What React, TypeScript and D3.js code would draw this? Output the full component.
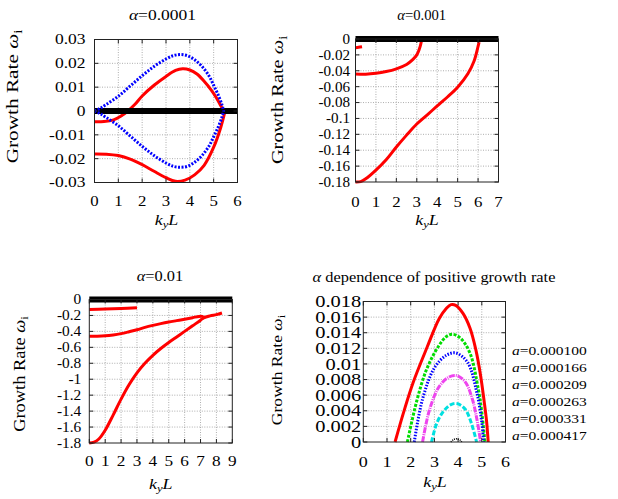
import React from "react";
import * as d3 from "d3";

type Pt = [number, number];

// ---- panel 1 : alpha = 0.0001 ----
const p1XTicks = [0, 1, 2, 3, 4, 5, 6];
const p1YTicks = [-0.03, -0.02, -0.01, 0, 0.01, 0.02, 0.03];
const p1YLabels = ["-0.03", "-0.02", "-0.01", "0", "0.01", "0.02", "0.03"];
const p1RedUpper: Pt[] = [
  [0, -0.0045], [0.4, -0.0044], [0.8, -0.0037], [1.1, -0.0022], [1.4, 0], [1.7, 0.0028],
  [2, 0.0063], [2.5, 0.0108], [3, 0.0145], [3.4, 0.017], [3.7, 0.0177], [4, 0.0172],
  [4.3, 0.0155], [4.6, 0.0125], [4.9, 0.0088], [5.1, 0.0058], [5.3, 0.0022], [5.45, -0.0005],
];
const p1RedLower: Pt[] = [
  [0, -0.018], [0.5, -0.0181], [1, -0.0187], [1.5, -0.0202], [2, -0.0225], [2.5, -0.0253],
  [3, -0.028], [3.4, -0.0295], [3.8, -0.029], [4.2, -0.0268], [4.6, -0.0228], [5, -0.0152],
  [5.3, -0.0068], [5.48, 0],
];
const p1BlueUpper: Pt[] = [
  [0, 0], [0.25, 0.0012], [0.5, 0.0028], [1, 0.0062], [1.5, 0.0105], [2, 0.0148],
  [2.5, 0.0187], [3, 0.0218], [3.3, 0.0232], [3.6, 0.0237], [3.9, 0.0232], [4.2, 0.0215],
  [4.5, 0.0188], [4.8, 0.0148], [5, 0.0108], [5.2, 0.0065], [5.35, 0.0025], [5.42, 0],
];
const p1BlueLower: Pt[] = [
  [0, 0], [0.25, -0.0012], [0.5, -0.0028], [1, -0.0062], [1.5, -0.0105], [2, -0.0148],
  [2.5, -0.0187], [3, -0.0218], [3.3, -0.0232], [3.6, -0.0236], [3.9, -0.0232], [4.2, -0.0215],
  [4.5, -0.0188], [4.8, -0.0148], [5, -0.0108], [5.2, -0.0065], [5.35, -0.0025], [5.42, 0],
];
const p1Zero: Pt[] = [[0, 0], [6, 0]];

// ---- panel 2 : alpha = 0.001 ----
const p2XTicks = [0, 1, 2, 3, 4, 5, 6, 7];
const p2YTicks = [-0.18, -0.16, -0.14, -0.12, -0.1, -0.08, -0.06, -0.04, -0.02, 0];
const p2YLabels = ["-0.18", "-0.16", "-0.14", "-0.12", "-0.1", "-0.08", "-0.06", "-0.04", "-0.02", "0"];
const p2RedA: Pt[] = [[0, -0.011], [0.15, -0.0105], [0.32, -0.0098]];
const p2RedB: Pt[] = [
  [0, -0.044], [0.5, -0.0443], [1, -0.0432], [1.5, -0.041], [2, -0.0375], [2.5, -0.032],
  [2.8, -0.026], [3, -0.02], [3.12, -0.013], [3.2, -0.006], [3.24, 0],
];
const p2RedC: Pt[] = [
  [0, -0.18], [0.25, -0.1795], [0.5, -0.176], [1, -0.165], [1.5, -0.152], [2, -0.136],
  [2.5, -0.121], [3, -0.107], [3.5, -0.0957], [4, -0.0843], [4.5, -0.073], [5, -0.0607],
  [5.5, -0.0438], [5.8, -0.028], [6, -0.0093], [6.05, -0.004],
];
const p2Zero: Pt[] = [[0, 0], [7, 0]];

// ---- panel 3 : alpha = 0.01 ----
const p3XTicks = [0, 1, 2, 3, 4, 5, 6, 7, 8, 9];
const p3YTicks = [-1.8, -1.6, -1.4, -1.2, -1, -0.8, -0.6, -0.4, -0.2, 0];
const p3YLabels = ["-1.8", "-1.6", "-1.4", "-1.2", "-1", "-0.8", "-0.6", "-0.4", "-0.2", "0"];
const p3RedA: Pt[] = [[0, -0.125], [1, -0.12], [2, -0.113], [3, -0.105]];
const p3RedB: Pt[] = [
  [0, -0.46], [0.5, -0.46], [1, -0.456], [1.5, -0.445], [2, -0.428], [2.5, -0.405],
  [3, -0.38], [3.5, -0.35], [4, -0.325], [4.5, -0.303], [5, -0.283], [5.5, -0.265],
  [6, -0.247], [6.5, -0.228], [6.9, -0.212], [7.1, -0.212], [7.25, -0.225],
];
const p3RedC: Pt[] = [
  [0, -1.8], [0.3, -1.79], [0.6, -1.75], [1, -1.64], [1.5, -1.45], [2, -1.25],
  [2.5, -1.07], [3, -0.92], [3.5, -0.8], [4, -0.7], [4.5, -0.615], [5, -0.54],
  [5.5, -0.47], [6, -0.4], [6.5, -0.33], [7, -0.26], [7.2, -0.23], [7.6, -0.205],
  [8, -0.19], [8.35, -0.17],
];
const p3Zero: Pt[] = [[0, 0], [9, 0]];

// ---- panel 4 : alpha dependence ----
const p4XTicks = [0, 1, 2, 3, 4, 5, 6];
const p4YTicks = [0, 0.002, 0.004, 0.006, 0.008, 0.01, 0.012, 0.014, 0.016, 0.018];
const p4YLabels = ["0", "0.002", "0.004", "0.006", "0.008", "0.01", "0.012", "0.014", "0.016", "0.018"];
const p4Names = ["0.000100", "0.000166", "0.000209", "0.000263", "0.000331", "0.000417"];
const p4Red: Pt[] = [
  [1.34, 0], [1.7, 0.0038], [2.1, 0.0076], [2.7, 0.0122], [3.2, 0.0158], [3.5, 0.0171],
  [3.7, 0.0176], [3.9, 0.0175], [4.2, 0.0165], [4.5, 0.0146], [4.75, 0.0118], [4.95, 0.0085],
  [5.1, 0.0052], [5.2, 0.0027], [5.27, 0],
];
const p4Green: Pt[] = [
  [1.86, 0], [2.25, 0.0052], [2.67, 0.0093], [3.16, 0.0122], [3.5, 0.0135], [3.77, 0.0138],
  [4.1, 0.0133], [4.5, 0.0114], [4.85, 0.0068], [5, 0.0038], [5.13, 0],
];
const p4Blue: Pt[] = [
  [2.15, 0], [2.5, 0.0055], [3, 0.0095], [3.5, 0.0111], [3.91, 0.0114], [4.4, 0.0102],
  [4.8, 0.0062], [5, 0.0025], [5.08, 0],
];
const p4Magenta: Pt[] = [
  [2.5, 0], [2.8, 0.0042], [3.2, 0.0071], [3.6, 0.0083], [3.94, 0.0085], [4.3, 0.0077],
  [4.6, 0.0055], [4.8, 0.0028], [4.95, 0],
];
const p4Cyan: Pt[] = [
  [2.88, 0], [3.1, 0.0024], [3.4, 0.004], [3.7, 0.0048], [3.98, 0.0049], [4.3, 0.0042],
  [4.55, 0.0025], [4.78, 0],
];
const p4Black: Pt[] = [[3.7, 0], [3.8, 0.0003], [3.95, 0.0004], [4.1, 0.0002], [4.15, 0]];

const FONT = "'Liberation Serif', 'Times New Roman', serif";

type Series = { data: Pt[]; color: string; width: number; dash?: string };
type Box = { left: number; right: number; top: number; bottom: number };
type TextSpec = { x: number; y: number; fs: number; sx: number };

function T({ x, y, fs, sx, anchor = "middle", rotate = 0, dy = "0", children }: any) {
  return (
    <text
      transform={`translate(${x},${y}) rotate(${rotate}) scale(${sx},1)`}
      fontSize={fs}
      fontFamily={FONT}
      textAnchor={anchor}
      dy={dy}
      fill="#000"
    >
      {children}
    </text>
  );
}

function Panel(props: {
  box: Box;
  xDomain: [number, number];
  yDomain: [number, number];
  xTicks: number[];
  yTicks: number[];
  yLabels: string[];
  series: Series[];
  yTick: { fs: number; sx: number; gap: number };
  xTick: { fs: number; sx: number; off: number };
  title: TextSpec & { text: React.ReactNode };
  ylab: TextSpec;
  xlab: TextSpec;
}) {
  const { box, xTicks, yTicks, yLabels, series, yTick, xTick, title, ylab, xlab } = props;
  const x = d3.scaleLinear().domain(props.xDomain).range([box.left, box.right]);
  const y = d3.scaleLinear().domain(props.yDomain).range([box.bottom, box.top]);
  const line = d3
    .line<Pt>()
    .x((d) => x(d[0]))
    .y((d) => y(d[1]))
    .curve(d3.curveCatmullRom.alpha(0.5));
  const tl = 4;

  return (
    <g>
      {/* grid */}
      {xTicks.slice(1, -1).map((t) => (
        <line key={"gx" + t} x1={x(t)} x2={x(t)} y1={box.top} y2={box.bottom}
          stroke="#999" strokeWidth={0.8} strokeDasharray="1,1.5" />
      ))}
      {yTicks.slice(1, -1).map((t) => (
        <line key={"gy" + t} x1={box.left} x2={box.right} y1={y(t)} y2={y(t)}
          stroke="#999" strokeWidth={0.8} strokeDasharray="1,1.5" />
      ))}
      {/* curves */}
      {series.map((s, i) => (
        <path key={i} d={line(s.data) || ""} fill="none" stroke={s.color}
          strokeWidth={s.width} strokeDasharray={s.dash} />
      ))}
      {/* frame + ticks */}
      <rect x={box.left} y={box.top} width={box.right - box.left} height={box.bottom - box.top}
        fill="none" stroke="#222" strokeWidth={1} />
      {xTicks.map((t) => (
        <g key={"tx" + t}>
          <line x1={x(t)} x2={x(t)} y1={box.bottom} y2={box.bottom - tl} stroke="#222" />
          <line x1={x(t)} x2={x(t)} y1={box.top} y2={box.top + tl} stroke="#222" />
          <T x={x(t)} y={box.bottom + xTick.off} fs={xTick.fs} sx={xTick.sx} dy="0.35em">{t}</T>
        </g>
      ))}
      {yTicks.map((t, i) => (
        <g key={"ty" + t}>
          <line x1={box.left} x2={box.left + tl} y1={y(t)} y2={y(t)} stroke="#222" />
          <line x1={box.right} x2={box.right - tl} y1={y(t)} y2={y(t)} stroke="#222" />
          <T x={box.left - yTick.gap} y={y(t)} fs={yTick.fs} sx={yTick.sx} anchor="end" dy="0.35em">
            {yLabels[i]}
          </T>
        </g>
      ))}
      <T x={title.x} y={title.y} fs={title.fs} sx={title.sx} dy="0.35em">{title.text}</T>
      <T x={ylab.x} y={ylab.y} fs={ylab.fs} sx={ylab.sx} rotate={-90}>
        Growth Rate <tspan fontStyle="italic">ω</tspan>
        <tspan fontSize="0.7em" dy="0.3em">i</tspan>
      </T>
      <T x={xlab.x} y={xlab.y} fs={xlab.fs} sx={xlab.sx}>
        <tspan fontStyle="italic">k</tspan>
        <tspan fontStyle="italic" fontSize="0.7em" dy="0.3em">y</tspan>
        <tspan fontStyle="italic" dy="-0.21em">L</tspan>
      </T>
    </g>
  );
}

const RED = "#ff0000";

export default function App() {
  return (
    <svg width={618} height={499} style={{ position: "absolute", left: 0, top: 0, background: "#fff" }}>
      <rect width={618} height={499} fill="#fff" />
      <Panel
        box={{ left: 94.5, right: 237.5, top: 39.5, bottom: 182.5 }}
        xDomain={[0, 6]} yDomain={[-0.03, 0.03]}
        xTicks={p1XTicks} yTicks={p1YTicks} yLabels={p1YLabels}
        series={[
          { data: p1RedUpper, color: RED, width: 3 },
          { data: p1RedLower, color: RED, width: 3 },
          { data: p1Zero, color: "#000", width: 6 },
          { data: p1BlueUpper, color: "#0000ff", width: 3, dash: "2,1.5" },
          { data: p1BlueLower, color: "#0000ff", width: 3, dash: "2,1.5" },
        ]}
        yTick={{ fs: 14, sx: 1.25, gap: 9 }}
        xTick={{ fs: 14, sx: 1.2, off: 19 }}
        title={{ x: 162.5, y: 15, fs: 14, sx: 1.25, text: <><tspan fontStyle="italic">α</tspan>=0.0001</> }}
        ylab={{ x: 18.3, y: 96.5, fs: 17, sx: 1.25 }}
        xlab={{ x: 166.5, y: 225, fs: 15, sx: 1.2 }}
      />
      <Panel
        box={{ left: 355.5, right: 498.5, top: 39, bottom: 182 }}
        xDomain={[0, 7]} yDomain={[-0.18, 0]}
        xTicks={p2XTicks} yTicks={p2YTicks} yLabels={p2YLabels}
        series={[
          { data: p2RedA, color: RED, width: 3 },
          { data: p2RedB, color: RED, width: 3 },
          { data: p2RedC, color: RED, width: 3 },
          { data: p2Zero, color: "#000", width: 6 },
        ]}
        yTick={{ fs: 14, sx: 1.08, gap: 5.5 }}
        xTick={{ fs: 14, sx: 1.2, off: 19.7 }}
        title={{ x: 421.7, y: 15, fs: 14, sx: 1.05, text: <><tspan fontStyle="italic">α</tspan>=0.001</> }}
        ylab={{ x: 283, y: 100, fs: 17, sx: 1.2 }}
        xlab={{ x: 427, y: 225, fs: 15, sx: 1.2 }}
      />
      <Panel
        box={{ left: 89.3, right: 232.3, top: 299.5, bottom: 443 }}
        xDomain={[0, 9]} yDomain={[-1.8, 0]}
        xTicks={p3XTicks} yTicks={p3YTicks} yLabels={p3YLabels}
        series={[
          { data: p3RedA, color: RED, width: 3 },
          { data: p3RedB, color: RED, width: 3 },
          { data: p3RedC, color: RED, width: 3 },
          { data: p3Zero, color: "#000", width: 6 },
        ]}
        yTick={{ fs: 14, sx: 1.1, gap: 8 }}
        xTick={{ fs: 15, sx: 1.15, off: 18 }}
        title={{ x: 160, y: 276, fs: 14, sx: 1.17, text: <><tspan fontStyle="italic">α</tspan>=0.01</> }}
        ylab={{ x: 25, y: 374, fs: 16, sx: 1.15 }}
        xlab={{ x: 160.8, y: 489, fs: 15, sx: 1.2 }}
      />
      <Panel
        box={{ left: 363.3, right: 505.5, top: 301.5, bottom: 442 }}
        xDomain={[0, 6]} yDomain={[0, 0.018]}
        xTicks={p4XTicks} yTicks={p4YTicks} yLabels={p4YLabels}
        series={[
          { data: p4Red, color: RED, width: 3 },
          { data: p4Green, color: "#00dd00", width: 3, dash: "3,1.5" },
          { data: p4Blue, color: "#0000ff", width: 3, dash: "1.5,1.5" },
          { data: p4Magenta, color: "#ee44ee", width: 3, dash: "6,1,1,1" },
          { data: p4Cyan, color: "#00e0e0", width: 3, dash: "5,2" },
          { data: p4Black, color: "#000", width: 1.5, dash: "1,1" },
        ]}
        yTick={{ fs: 16, sx: 1.28, gap: 2 }}
        xTick={{ fs: 15, sx: 1.2, off: 20 }}
        title={{
          x: 434, y: 277, fs: 14.5, sx: 1.13,
          text: <><tspan fontStyle="italic">α</tspan> dependence of positive growth rate</>,
        }}
        ylab={{ x: 281.5, y: 370, fs: 15, sx: 1.17 }}
        xlab={{ x: 435, y: 487, fs: 15, sx: 1.2 }}
      />
      {p4Names.map((n, i) => (
        <T key={n} x={512} y={350 + i * 17} fs={13.5} sx={1.15} anchor="start" dy="0.35em">
          <tspan fontStyle="italic">a</tspan>={n}
        </T>
      ))}
    </svg>
  );
}
